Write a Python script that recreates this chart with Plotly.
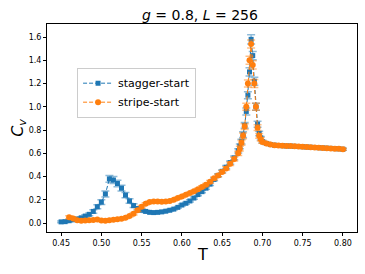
import plotly.graph_objects as go

# Temperatures
T = [0.450, 0.455, 0.460, 0.465, 0.470, 0.475, 0.480, 0.485, 0.490, 0.495,
     0.500, 0.505, 0.510, 0.515, 0.520, 0.525, 0.530, 0.535, 0.540, 0.545,
     0.550, 0.555, 0.560, 0.565, 0.570, 0.575, 0.580, 0.585, 0.590, 0.595,
     0.600, 0.605, 0.610, 0.615, 0.620, 0.625, 0.630, 0.635, 0.640, 0.645,
     0.650, 0.655, 0.660, 0.665, 0.670,
     0.672, 0.674, 0.676, 0.678, 0.680, 0.682, 0.684, 0.686, 0.688, 0.690,
     0.692, 0.694, 0.696, 0.698,
     0.700, 0.705, 0.710, 0.715, 0.720, 0.725, 0.730, 0.735, 0.740, 0.745,
     0.750, 0.755, 0.760, 0.765, 0.770, 0.775, 0.780, 0.785, 0.790, 0.795, 0.800]

cv_stagger = [0.010, 0.012, 0.020, 0.028, 0.035, 0.045, 0.060, 0.075, 0.100, 0.140,
              0.180, 0.250, 0.380, 0.370, 0.340, 0.300, 0.240, 0.190, 0.150, 0.125,
              0.110, 0.100, 0.092, 0.090, 0.092, 0.096, 0.102, 0.110, 0.120, 0.135,
              0.155, 0.170, 0.190, 0.215, 0.245, 0.270, 0.300, 0.335, 0.375, 0.410,
              0.445, 0.480, 0.520, 0.560, 0.620,
              0.660, 0.700, 0.760, 0.840, 0.960, 1.100, 1.300, 1.580, 1.440, 1.220,
              1.000, 0.850, 0.770, 0.730,
              0.700, 0.685, 0.675, 0.670, 0.667, 0.665, 0.663, 0.662, 0.660, 0.658,
              0.656, 0.654, 0.652, 0.650, 0.648, 0.646, 0.644, 0.642, 0.640, 0.638, 0.635]

err_stagger = [0.008, 0.008, 0.008, 0.008, 0.010, 0.010, 0.012, 0.012, 0.015, 0.018,
               0.020, 0.025, 0.030, 0.030, 0.028, 0.025, 0.022, 0.020, 0.016, 0.012,
               0.010, 0.010, 0.008, 0.008, 0.008, 0.008, 0.008, 0.008, 0.008, 0.008,
               0.008, 0.008, 0.010, 0.010, 0.010, 0.010, 0.010, 0.012, 0.012, 0.012,
               0.012, 0.014, 0.014, 0.016, 0.018,
               0.020, 0.020, 0.025, 0.025, 0.030, 0.030, 0.035, 0.040, 0.035, 0.035,
               0.030, 0.025, 0.020, 0.015,
               0.012, 0.010, 0.008, 0.008, 0.008, 0.008, 0.008, 0.008, 0.008, 0.008,
               0.008, 0.008, 0.008, 0.008, 0.008, 0.008, 0.008, 0.008, 0.008, 0.008, 0.008]

cv_stripe = [None, None, 0.050, 0.040, 0.025, 0.020, 0.022, 0.025, 0.026, 0.030,
             0.022, 0.020, 0.024, 0.028, 0.032, 0.036, 0.045, 0.060, 0.080, 0.110,
             0.140, 0.165, 0.180, 0.185, 0.185, 0.183, 0.185, 0.190, 0.200, 0.215,
             0.228, 0.243, 0.258, 0.273, 0.290, 0.310, 0.330, 0.355, 0.385, 0.410,
             0.440, 0.470, 0.510, 0.550, 0.600,
             0.640, 0.690, 0.750, 0.830, 1.000, 1.200, 1.400, 1.540, 1.360, 1.200,
             1.000, 0.820, 0.750, 0.720,
             0.698, 0.685, 0.675, 0.670, 0.667, 0.665, 0.663, 0.662, 0.660, 0.658,
             0.656, 0.654, 0.652, 0.650, 0.648, 0.646, 0.644, 0.642, 0.640, 0.638, 0.635]

err_stripe = [None, None, 0.012, 0.010, 0.008, 0.008, 0.008, 0.008, 0.008, 0.008,
              0.008, 0.008, 0.008, 0.008, 0.008, 0.008, 0.008, 0.008, 0.010, 0.010,
              0.010, 0.010, 0.010, 0.010, 0.010, 0.010, 0.010, 0.010, 0.010, 0.010,
              0.010, 0.010, 0.010, 0.010, 0.010, 0.010, 0.010, 0.012, 0.012, 0.012,
              0.012, 0.014, 0.014, 0.016, 0.018,
              0.020, 0.020, 0.025, 0.025, 0.030, 0.030, 0.035, 0.035, 0.035, 0.035,
              0.030, 0.025, 0.020, 0.015,
              0.012, 0.010, 0.008, 0.008, 0.008, 0.008, 0.008, 0.008, 0.008, 0.008,
              0.008, 0.008, 0.008, 0.008, 0.008, 0.008, 0.008, 0.008, 0.008, 0.008, 0.008]

x_ticks = [0.45, 0.50, 0.55, 0.60, 0.65, 0.70, 0.75, 0.80]
y_ticks = [0.0, 0.2, 0.4, 0.6, 0.8, 1.0, 1.2, 1.4, 1.6]

BLUE = "#1f77b4"
ORANGE = "#ff7f0e"

fig = go.Figure()
fig.add_trace(go.Scatter(
    x=T, y=cv_stagger, name="stagger-start", mode="lines+markers",
    line=dict(color=BLUE, width=1, dash="4px,2px"),
    marker=dict(symbol="square", size=5, color=BLUE),
    error_y=dict(type="data", array=err_stagger, visible=True,
                 color="rgba(31,119,180,0.5)", thickness=1.5, width=4),
))
fig.add_trace(go.Scatter(
    x=T, y=cv_stripe, name="stripe-start", mode="lines+markers",
    line=dict(color=ORANGE, width=1, dash="4px,2px"),
    marker=dict(symbol="circle", size=6, color=ORANGE),
    error_y=dict(type="data", array=err_stripe, visible=True,
                 color="rgba(255,127,14,0.5)", thickness=1.5, width=4),
    connectgaps=False,
))

axis_common = dict(
    showgrid=False, zeroline=False, showline=True, linecolor="black", linewidth=1,
    mirror=True, ticks="outside", ticklen=3, tickwidth=1, tickcolor="black",
    automargin=False,
    tickfont=dict(family="DejaVu Sans", size=8, color="black"),
)

fig.update_layout(
    width=365, height=274,
    margin=dict(l=47, r=8, t=24, b=42),
    paper_bgcolor="white", plot_bgcolor="white",
    font=dict(family="DejaVu Sans", color="black"),
    showlegend=True,
    legend=dict(
        x=0.097, y=0.79, xanchor="left", yanchor="top",
        bgcolor="rgba(255,255,255,0.8)", bordercolor="#cccccc", borderwidth=1,
        font=dict(family="DejaVu Sans", size=11, color="black"),
        tracegroupgap=0, itemwidth=30,
    ),
    xaxis=dict(range=[0.4325, 0.8175], tickvals=x_ticks, tickformat=".2f", **axis_common),
    yaxis=dict(range=[-0.077, 1.712], tickvals=y_ticks, tickformat=".1f", **axis_common),
    annotations=[
        dict(text="<i>g</i> = 0.8, <i>L</i> = 256", xref="paper", yref="paper",
             x=0.495, y=1.045, xanchor="center", yanchor="middle", showarrow=False,
             font=dict(family="DejaVu Sans", size=14, color="black")),
        dict(text="T", xref="paper", yref="paper", x=0.5, y=-0.11,
             xanchor="center", yanchor="middle", showarrow=False,
             font=dict(family="DejaVu Sans", size=16, color="black")),
        dict(text="<i>C<sub>v</sub></i>", xref="paper", yref="paper", x=-0.094, y=0.5,
             xanchor="center", yanchor="middle", showarrow=False, textangle=-90,
             font=dict(family="DejaVu Sans", size=16, color="black")),
    ],
)

fig.write_html("out.html", config={"displayModeBar": False},
               post_script="document.body.style.margin='0';document.body.style.padding='0';")
